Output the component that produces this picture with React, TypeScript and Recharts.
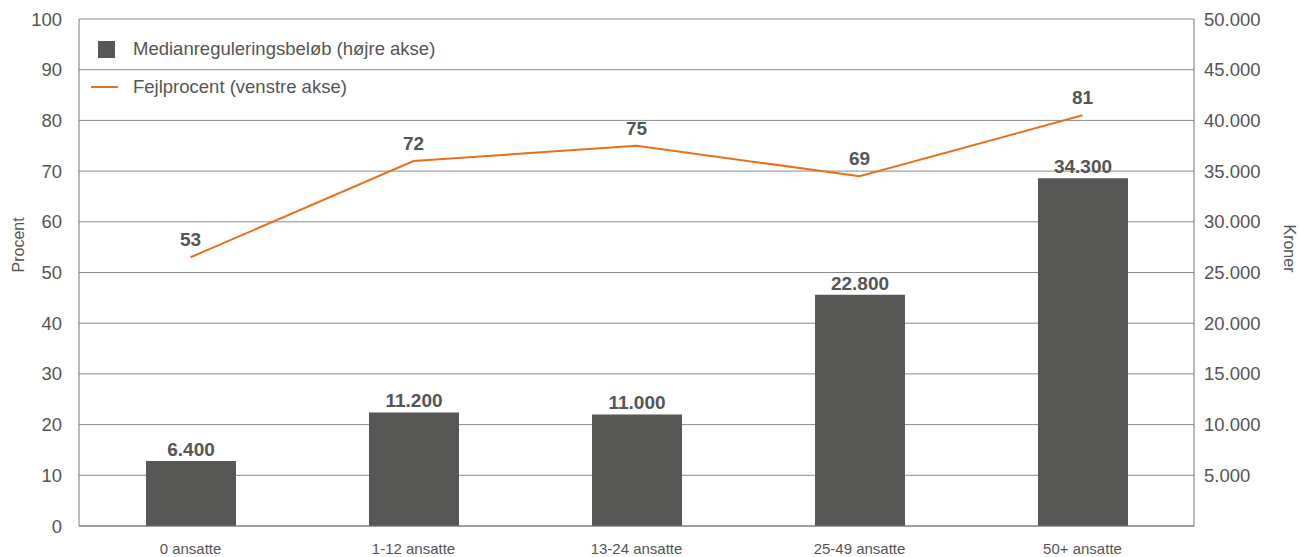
import React from "react";
import {
  Bar,
  CartesianGrid,
  ComposedChart,
  LabelList,
  Legend,
  Line,
  XAxis,
  YAxis
} from "recharts";

const categories = ["0 ansatte", "1-12 ansatte", "13-24 ansatte", "25-49 ansatte", "50+ ansatte"];
const medianAmount = [6400, 11200, 11000, 22800, 34300];
const errorPercent = [53, 72, 75, 69, 81];
const leftTicks = [0, 10, 20, 30, 40, 50, 60, 70, 80, 90, 100];
const rightTicks = [5000, 10000, 15000, 20000, 25000, 30000, 35000, 40000, 45000, 50000];

const data = categories.map((name, i) => ({
  name,
  amount: medianAmount[i],
  pct: errorPercent[i]
}));

const FONT = "'Liberation Sans', Arial, sans-serif";
const TEXT = "#555555";
const BAR = "#575756";
const LINE = "#E8701A";

const fmt = (v: number) => v.toLocaleString("da-DK");

const renderLegend = () => (
  <div style={{ fontFamily: FONT, fontSize: 18.5, color: TEXT }}>
    <div style={{ display: "flex", alignItems: "center", height: 24 }}>
      <span style={{ width: 17, height: 17, background: BAR, marginLeft: 7, marginRight: 18 }} />
      Medianreguleringsbeløb (højre akse)
    </div>
    <div style={{ display: "flex", alignItems: "center", height: 24, marginTop: 14 }}>
      <span style={{ width: 27, height: 2, background: LINE, marginRight: 15 }} />
      Fejlprocent (venstre akse)
    </div>
  </div>
);

const App = () => (
  <div style={{ position: "absolute", left: 0, top: 0 }}>
    <ComposedChart
      width={1299}
      height={557}
      data={data}
      margin={{ top: 19, right: 0, bottom: 0, left: 0 }}
      style={{ fontFamily: FONT }}
    >
      <CartesianGrid yAxisId="left" vertical={false} stroke="#8a8a8a" />
      <XAxis
        dataKey="name"
        height={31}
        axisLine={{ stroke: "#777" }}
        tickLine={false}
        tickSize={0}
        tickMargin={17}
        tick={{ fill: TEXT, fontSize: 15 }}
      />
      <YAxis
        yAxisId="left"
        domain={[0, 100]}
        ticks={leftTicks}
        width={79}
        axisLine={{ stroke: "#777" }}
        tickLine={false}
        tickSize={0}
        tickMargin={17}
        tick={{ fill: TEXT, fontSize: 18.5 }}
        label={{ value: "Procent", angle: -90, position: "insideLeft", offset: 18, fill: TEXT, fontSize: 16 }}
      />
      <YAxis
        yAxisId="right"
        orientation="right"
        domain={[0, 50000]}
        ticks={rightTicks}
        width={105}
        axisLine={{ stroke: "#777" }}
        tickLine={false}
        tickSize={0}
        tickMargin={10}
        tickFormatter={fmt}
        tick={{ fill: TEXT, fontSize: 18.5 }}
        label={{ value: "Kroner", angle: 90, position: "insideRight", offset: 9, fill: TEXT, fontSize: 16 }}
      />
      <Legend
        layout="horizontal"
        verticalAlign="middle"
        align="center"
        content={renderLegend}
        wrapperStyle={{ top: 37, left: 91, width: "auto" }}
      />
      <Bar yAxisId="right" dataKey="amount" fill={BAR} barSize={90} isAnimationActive={false}>
        <LabelList
          dataKey="amount"
          position="top"
          offset={5}
          formatter={(v: number) => fmt(v)}
          style={{ fill: TEXT, fontSize: 19, fontWeight: "bold" }}
        />
      </Bar>
      <Line
        yAxisId="left"
        dataKey="pct"
        stroke={LINE}
        strokeWidth={2}
        dot={false}
        isAnimationActive={false}
      >
        <LabelList
          dataKey="pct"
          position="top"
          offset={11}
          style={{ fill: TEXT, fontSize: 19, fontWeight: "bold" }}
        />
      </Line>
    </ComposedChart>
  </div>
);

export default App;
